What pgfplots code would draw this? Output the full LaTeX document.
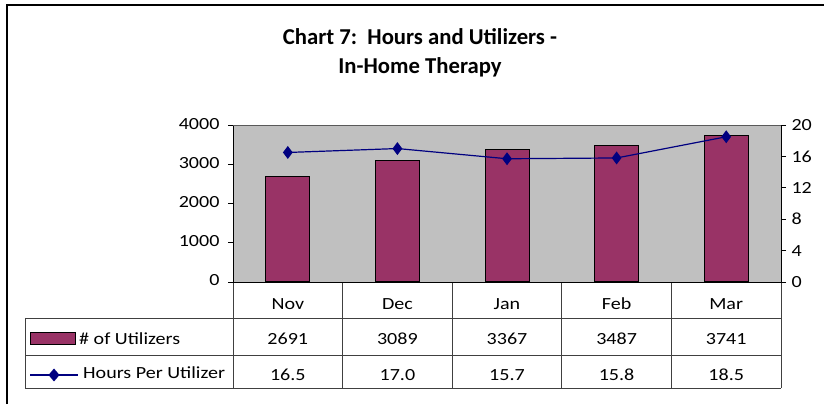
\documentclass[border=0pt]{standalone}
\usepackage{fontspec}
\setmainfont{Carlito}[FakeStretch=1.18]
\newfontfamily\titlefont{Carlito}
\usepackage{pgfplots}
\pgfplotsset{compat=1.18}
\definecolor{plum}{HTML}{993366}
\definecolor{navyb}{HTML}{000080}
\definecolor{silver}{HTML}{C0C0C0}
\definecolor{tgrid}{HTML}{404040}
\pgfplotstableread{
x util hours
0 2691 16.5
1 3089 17.0
2 3367 15.7
3 3487 15.8
4 3741 18.5
}\datatab
\newcommand{\bodyfont}{\fontsize{17}{20}\selectfont}
\begin{document}
\begin{tikzpicture}[x=1pt,y=1pt]
\path[use as bounding box] (0,0) rectangle (824,404);
\draw[line width=1.5pt] (7,0) -- (7,399) -- (824,399);
\node[font=\titlefont\bfseries\fontsize{22.7}{26}\selectfont, anchor=base] at (420,359) {Chart 7:\ \ Hours and Utilizers -};
\node[font=\titlefont\bfseries\fontsize{22.7}{26}\selectfont, anchor=base] at (420,330) {In-Home Therapy};
% data table grid
\begin{scope}[draw=tgrid, line width=0.8pt]
\draw (25,86) -- (781,86);
\draw (25,49) -- (781,49);
\draw (25,16) -- (781,16);
\draw (25,86) -- (25,16);
\foreach \xx in {233,342.6,452.2,561.8,671.4,781} \draw (\xx,122) -- (\xx,16);
\end{scope}
% legend keys
\draw[fill=plum, line width=1pt] (30,59) rectangle (75,71);
\draw[navyb, line width=1.2pt] (30,29) -- (78,29);
\fill[navyb] (54,35.5) -- (59.5,29) -- (54,22.5) -- (48.5,29) -- cycle;
\node[font=\bodyfont, anchor=base west, inner sep=0pt] at (79,59) {\# of Utilizers};
\node[font=\bodyfont, anchor=base west, inner sep=0pt] at (83,25) {Hours Per Utilizer};
\begin{axis}[at={(233pt,122pt)}, anchor=south west, width=548pt, height=157pt, scale only axis,
  xmin=-0.5, xmax=4.5, ymin=0, ymax=4000,
  ytick={0,1000,...,4000},
  xtick={0,...,4}, xticklabels={Nov,Dec,Jan,Feb,Mar},
  major x tick style={draw=none},
  xticklabel style={font=\bodyfont, anchor=base, yshift=-23pt, inner sep=0pt},
  typeset ticklabels with strut=false,
  axis x line*=bottom, axis y line*=left,
  axis line style={black, line width=0.8pt},
  tick align=outside, major tick length=5pt,
  every tick/.style={black, line width=0.8pt},
  yticklabel style={font=\bodyfont, xshift=-5pt},
  /pgf/number format/assume math mode=true,
  /pgf/number format/1000 sep={},
  axis background/.style={fill=silver},
  clip=false,
]
\addplot[ybar, bar width=44pt, fill=plum, draw=black, line width=1pt] table[x=x, y=util] {\datatab};
\draw[gray!70!black, line width=0.8pt] (rel axis cs:0,1) -- (rel axis cs:1,1);
\node[font=\bodyfont, anchor=base] at (axis cs:0,0) [yshift=-63pt] {2691};
\node[font=\bodyfont, anchor=base] at (axis cs:1,0) [yshift=-63pt] {3089};
\node[font=\bodyfont, anchor=base] at (axis cs:2,0) [yshift=-63pt] {3367};
\node[font=\bodyfont, anchor=base] at (axis cs:3,0) [yshift=-63pt] {3487};
\node[font=\bodyfont, anchor=base] at (axis cs:4,0) [yshift=-63pt] {3741};
\node[font=\bodyfont, anchor=base] at (axis cs:0,0) [yshift=-98pt] {16.5};
\node[font=\bodyfont, anchor=base] at (axis cs:1,0) [yshift=-98pt] {17.0};
\node[font=\bodyfont, anchor=base] at (axis cs:2,0) [yshift=-98pt] {15.7};
\node[font=\bodyfont, anchor=base] at (axis cs:3,0) [yshift=-98pt] {15.8};
\node[font=\bodyfont, anchor=base] at (axis cs:4,0) [yshift=-98pt] {18.5};
\end{axis}
\begin{axis}[at={(233pt,122pt)}, anchor=south west, width=548pt, height=157pt, scale only axis,
  xmin=-0.5, xmax=4.5, ymin=0, ymax=20,
  ytick={0,4,...,20},
  axis x line=none, axis y line*=right,
  axis line style={black, line width=0.8pt},
  tick align=outside, major tick length=5pt,
  every tick/.style={black, line width=0.8pt},
  yticklabel style={font=\bodyfont, xshift=2pt},
  /pgf/number format/assume math mode=true,
  clip=false,
]
\addplot[navyb, line width=1.2pt, mark=diamond*, mark size=5.5pt, mark options={fill=navyb, solid}] table[x=x, y=hours] {\datatab};
\end{axis}
\end{tikzpicture}
\end{document}
